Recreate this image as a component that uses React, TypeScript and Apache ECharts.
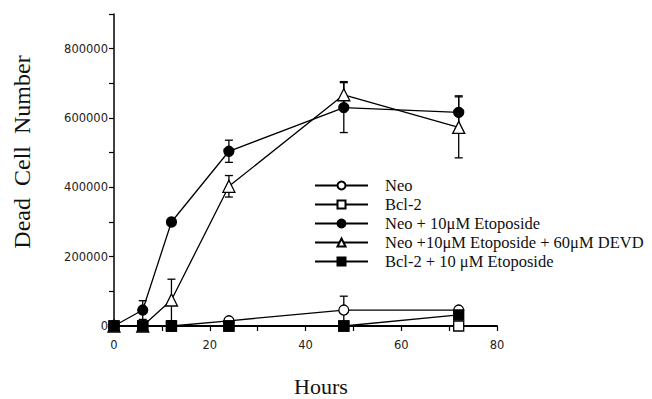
import React, { useEffect, useRef } from "react";
import * as echarts from "echarts";

const hours = [0, 6, 12, 24, 48, 72];
const neo = [0, 0, 0, 15000, 46000, 46000];
const bcl2 = [0, 0, 0, 0, 0, 0];
const neoEto = [0, 46000, 300000, 504000, 630000, 616000];
const neoEtoDevd = [0, 0, 75000, 403000, 667000, 573000];
const bcl2Eto = [0, 0, 0, 0, 0, 32000];

const neoErr = [0, 0, 0, 0, 40000, 0];
const neoEtoErr = [0, 27000, 0, 32000, 72000, 48000];
const devdErr = [0, 0, 60000, 31000, 38000, 88000];

const names = [
  "Neo",
  "Bcl-2",
  "Neo + 10\u03bcM Etoposide",
  "Neo +10\u03bcM Etoposide + 60\u03bcM DEVD",
  "Bcl-2 + 10 \u03bcM Etoposide",
];

const pairs = (vals: number[]) => hours.map((h, i) => [h, vals[i]]);
const errData = (vals: number[], errs: number[]) =>
  hours
    .map((h, i) => [h, vals[i] - errs[i], vals[i] + errs[i], errs[i]])
    .filter((d) => d[3] > 0)
    .map((d) => [d[0], Math.max(0, d[1]), d[2]]);

const errSeries = (id: string, vals: number[], errs: number[]) => ({
  type: "custom",
  id,
  z: 1,
  data: errData(vals, errs),
  renderItem: (_params: any, api: any) => {
    const x = api.value(0);
    const lo = api.coord([x, api.value(1)]);
    const hi = api.coord([x, api.value(2)]);
    const cw = 4;
    const st = { stroke: "#000", lineWidth: 1.3 };
    return {
      type: "group",
      children: [
        { type: "line", shape: { x1: lo[0], y1: lo[1], x2: hi[0], y2: hi[1] }, style: st },
        { type: "line", shape: { x1: hi[0] - cw, y1: hi[1], x2: hi[0] + cw, y2: hi[1] }, style: st },
        { type: "line", shape: { x1: lo[0] - cw, y1: lo[1], x2: lo[0] + cw, y2: lo[1] }, style: st },
      ],
    };
  },
});

const lineSeries = (name: string, vals: number[], symbol: string, filled: boolean, size: number) => ({
  type: "line",
  name,
  data: pairs(vals),
  symbol,
  symbolSize: size,
  showAllSymbol: true,
  z: 3,
  lineStyle: { color: "#000", width: 1.3 },
  itemStyle: { color: filled ? "#000" : "#fff", borderColor: "#000", borderWidth: 1.3 },
});

export default function App() {
  const ref = useRef<HTMLDivElement>(null);
  useEffect(() => {
    if (!ref.current) return;
    const chart = echarts.init(ref.current, null, { renderer: "svg" });
    const tickFont = { fontFamily: "DejaVu Sans", fontSize: 11.5, color: "#222" };
    chart.setOption({
      animation: false,
      backgroundColor: "#fff",
      grid: { left: 114, right: 155, top: 14, bottom: 73 },
      xAxis: {
        type: "value",
        min: 0,
        max: 80,
        interval: 10,
        splitLine: { show: false },
        axisLine: { lineStyle: { color: "#000", width: 2 } },
        axisTick: { show: true, length: 5, lineStyle: { color: "#000", width: 1.2 } },
        axisLabel: {
          ...tickFont,
          margin: 13,
          formatter: (v: number) => (v % 20 === 0 ? String(v) : ""),
        },
      },
      yAxis: {
        type: "value",
        min: 0,
        max: 900000,
        interval: 100000,
        splitLine: { show: false },
        axisLine: { show: true, lineStyle: { color: "#000", width: 1.5 } },
        axisTick: { show: true, length: 5, lineStyle: { color: "#000", width: 1.2 } },
        axisLabel: {
          ...tickFont,
          margin: 6,
          formatter: (v: number) => (v % 200000 === 0 && v <= 800000 ? String(v) : ""),
        },
      },
      legend: {
        orient: "vertical",
        left: 309,
        top: 172,
        itemWidth: 53,
        itemHeight: 10,
        itemGap: 2,
        data: names,
        selectedMode: false,
        textStyle: {
          fontFamily: "Liberation Serif",
          fontSize: 16.5,
          color: "#111",
          padding: [0, 0, 0, 12],
        },
      },
      graphic: [
        {
          type: "text",
          x: 22,
          y: 152,
          rotation: Math.PI / 2,
          style: {
            text: "Dead  Cell  Number",
            fontFamily: "Liberation Serif",
            fontSize: 24,
            fill: "#111",
            align: "center",
            verticalAlign: "middle",
          },
        },
        {
          type: "text",
          x: 321,
          y: 386,
          style: {
            text: "Hours",
            fontFamily: "Liberation Serif",
            fontSize: 22,
            fill: "#111",
            align: "center",
            verticalAlign: "middle",
          },
        },
      ],
      series: [
        errSeries("e1", neo, neoErr),
        errSeries("e2", neoEto, neoEtoErr),
        errSeries("e3", neoEtoDevd, devdErr),
        lineSeries(names[0], neo, "circle", false, 10),
        lineSeries(names[1], bcl2, "rect", false, 10),
        lineSeries(names[2], neoEto, "circle", true, 10),
        lineSeries(names[3], neoEtoDevd, "triangle", false, 12),
        lineSeries(names[4], bcl2Eto, "rect", true, 10),
      ],
    });
    return () => chart.dispose();
  }, []);
  return (
    <div
      ref={ref}
      style={{ position: "fixed", left: 0, top: 0, width: 652, height: 399 }}
    />
  );
}
